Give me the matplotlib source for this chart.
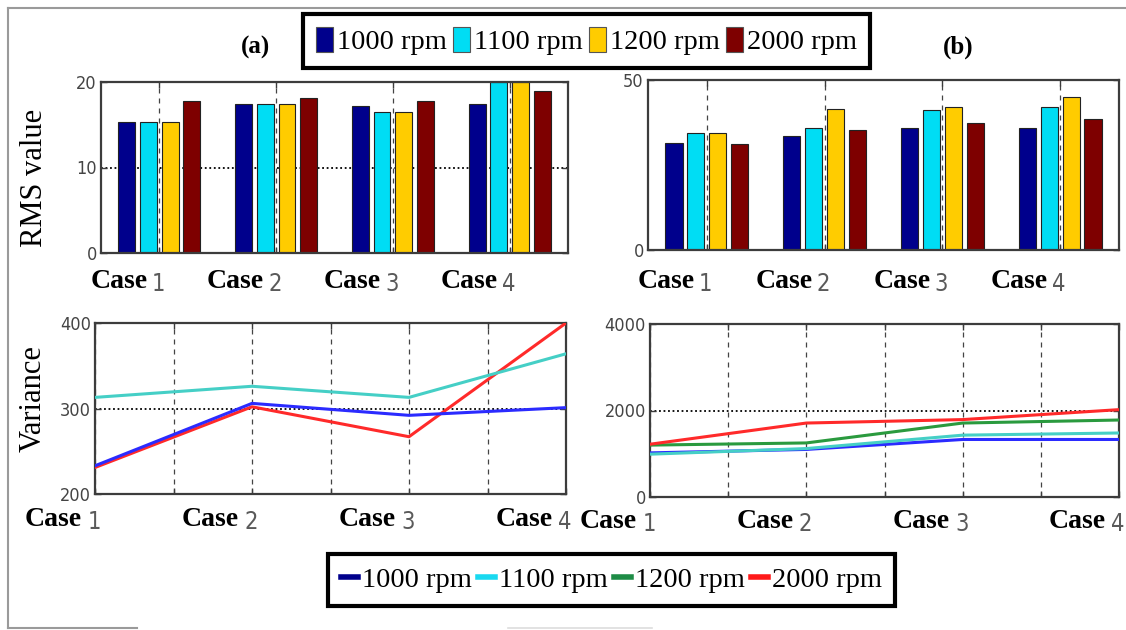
import matplotlib
matplotlib.use("Agg")
import matplotlib.pyplot as plt
import matplotlib.transforms as mtransforms
from matplotlib import font_manager
from matplotlib.font_manager import FontProperties
from matplotlib.patches import Patch
from matplotlib.lines import Line2D
import numpy as np

plt.rcParams["font.family"] = ["Liberation Serif", "DejaVu Serif"]

W, H, DPI = 1126, 630, 100

cases = ["Case 1", "Case 2", "Case 3", "Case 4"]
speeds = ["1000 rpm", "1100 rpm", "1200 rpm", "2000 rpm"]

# RMS values, panel (a)
rms_a_1000 = [15.3, 17.4, 17.2, 17.4]
rms_a_1100 = [15.3, 17.4, 16.5, 20.0]
rms_a_1200 = [15.3, 17.4, 16.5, 20.0]
rms_a_2000 = [17.8, 18.1, 17.8, 19.0]

# RMS values, panel (b)
rms_b_1000 = [31.4, 33.6, 36.0, 36.0]
rms_b_1100 = [34.4, 36.0, 41.3, 42.0]
rms_b_1200 = [34.4, 41.4, 42.1, 45.1]
rms_b_2000 = [31.2, 35.3, 37.4, 38.4]

# Variance, panel (a)
var_a_1000 = [233, 306, 292, 301]
var_a_1100 = [313, 326, 313, 364]
var_a_2000 = [231, 302, 267, 400]

# Variance, panel (b)
var_b_1000 = [1020, 1100, 1330, 1330]
var_b_1100 = [990, 1120, 1430, 1480]
var_b_1200 = [1200, 1250, 1710, 1780]
var_b_2000 = [1220, 1710, 1790, 2020]

rms_ticks_a = [0, 10, 20]
rms_ticks_b = [0, 50]
var_ticks_a = [200, 300, 400]
var_ticks_b = [0, 2000, 4000]

bar_colors = ["#00008C", "#00DDF4", "#FFCC00", "#7E0000"]
line_colors = {"1000 rpm": "#2B2BFF", "1100 rpm": "#45CFC6",
               "1200 rpm": "#2A9A3E", "2000 rpm": "#FF2A2A"}
legend_line_colors = ["#00008C", "#19D9F0", "#1E8C46", "#FF1A1A"]
SPINE = "#3c3c3c"


def narrow_font():
    """Pick a condensed sans face for the numerals if one is installed."""
    for f in font_manager.fontManager.ttflist:
        fn = f.fname.lower()
        if ("narrow" in fn or "condensed" in fn) and "bold" not in fn \
                and "italic" not in fn and "oblique" not in fn and "serif" not in fn:
            return dict(fname=f.fname)
    return dict(family="Liberation Sans")


NARROW = narrow_font()


def nprop(size):
    return FontProperties(size=size, **NARROW)


fig = plt.figure(figsize=(W / DPI, H / DPI), dpi=DPI)
fig.patch.set_facecolor("white")


def px_axes(x0, y0, x1, y1):
    return fig.add_axes([x0 / W, 1 - y1 / H, (x1 - x0) / W, (y1 - y0) / H])


def style(ax, yticks):
    for s in ax.spines.values():
        s.set_color(SPINE)
        s.set_linewidth(1.6)
    ax.set_axisbelow(True)
    ax.set_yticks(yticks)
    ax.tick_params(direction="in", length=4, width=1, color=SPINE,
                   top=True, right=True, labelbottom=False, pad=3)
    for lab in ax.get_yticklabels():
        lab.set_fontproperties(nprop(13))
        lab.set_color("#444444")


def case_labels(ax, xs, y_px, word_dx, digit_dx):
    base = mtransforms.blended_transform_factory(ax.transData, fig.transFigure)
    for x, lab in zip(xs, cases):
        word, num = lab.split()
        t_word = mtransforms.offset_copy(base, fig=fig, x=word_dx, y=0, units="dots")
        t_num = mtransforms.offset_copy(base, fig=fig, x=digit_dx, y=0, units="dots")
        ax.text(x, 1 - y_px / H, word, transform=t_word, ha="right", va="center",
                fontsize=20, fontweight="bold", clip_on=False)
        ax.text(x, 1 - (y_px + 2) / H, num, transform=t_num, ha="center", va="center",
                fontproperties=nprop(17), color="#5a5a5a", clip_on=False)


# ---- RMS bar panels ----
group_pos = np.arange(1, len(cases) + 1)
offsets = (np.arange(4) - 1.5) * 0.186
bar_w = 0.145


def rms_panel(ax, series, yticks, ymax, hgrid):
    for vals, color, off in zip(series, bar_colors, offsets):
        ax.bar(group_pos + off, vals, width=bar_w, color=color,
               edgecolor="#222222", linewidth=0.8, zorder=2)
    ax.set_xlim(0.5, 4.5)
    ax.set_ylim(0, ymax)
    ax.set_xticks(group_pos)
    ax.xaxis.grid(True, linestyle=(0, (4, 4)), color="#444444", linewidth=0.9)
    if hgrid:
        ax.yaxis.grid(True, linestyle=(0, (1, 1.5)), color="black", linewidth=1.3)
    style(ax, yticks)


ax_ra = px_axes(101, 82, 568, 253)
rms_panel(ax_ra, [rms_a_1000, rms_a_1100, rms_a_1200, rms_a_2000], rms_ticks_a, 20, True)
case_labels(ax_ra, group_pos, 282, -12, -1)

ax_rb = px_axes(648, 80, 1119, 250)
rms_panel(ax_rb, [rms_b_1000, rms_b_1100, rms_b_1200, rms_b_2000], rms_ticks_b, 50, False)
case_labels(ax_rb, group_pos, 282, -12, -1)

# ---- Variance line panels ----
case_pos = 2 * np.arange(len(cases))


def var_panel(ax, series, yticks):
    for name, vals in series:
        ax.plot(case_pos, vals, color=line_colors[name], linewidth=2.2, zorder=3)
    ax.set_xlim(case_pos[0], case_pos[-1])
    ax.set_ylim(yticks[0], yticks[-1])
    ax.set_xticks(np.arange(case_pos[0], case_pos[-1] + 1))
    ax.xaxis.grid(True, linestyle=(0, (4, 4)), color="#444444", linewidth=0.9)
    ax.yaxis.grid(True, linestyle=(0, (1, 1.5)), color="black", linewidth=1.3)
    style(ax, yticks)


ax_va = px_axes(95, 323, 566, 494)
var_panel(ax_va, [("2000 rpm", var_a_2000), ("1000 rpm", var_a_1000),
                  ("1100 rpm", var_a_1100)], var_ticks_a)
case_labels(ax_va, case_pos, 520, -13, -1)

ax_vb = px_axes(650, 324, 1119, 497)
var_panel(ax_vb, [("1000 rpm", var_b_1000), ("1100 rpm", var_b_1100),
                  ("1200 rpm", var_b_1200), ("2000 rpm", var_b_2000)], var_ticks_b)
case_labels(ax_vb, case_pos, 522, -13, -1)

# ---- Titles and axis labels ----
fig.text(256 / W, 1 - 47 / H, "(a)", ha="center", va="center", fontsize=18, fontweight="bold")
fig.text(958 / W, 1 - 47 / H, "(b)", ha="center", va="center", fontsize=18, fontweight="bold")
fig.text(35 / W, 1 - 178 / H, "RMS value", rotation=90, ha="center", va="center", fontsize=22)
fig.text(33 / W, 1 - 399 / H, "Variance", rotation=90, ha="center", va="center", fontsize=22)

# ---- Legends ----
bar_handles = [Patch(facecolor=c, edgecolor="#555555", linewidth=0.8) for c in bar_colors]
leg1 = fig.legend(bar_handles, speeds, ncol=4, loc="center",
                  bbox_to_anchor=(586.5 / W, 1 - 41 / H), fontsize=20.5,
                  handlelength=0.6, handleheight=1.0, handletextpad=0.15,
                  columnspacing=0.2, borderpad=0.45, borderaxespad=0,
                  fancybox=False, edgecolor="black", framealpha=1)
leg1.get_frame().set_linewidth(3)

line_handles = [Line2D([0], [0], color=c, linewidth=4) for c in legend_line_colors]
leg2 = fig.legend(line_handles, speeds, ncol=4, loc="center",
                  bbox_to_anchor=(611.5 / W, 1 - 580 / H), fontsize=20.5,
                  handlelength=0.6, handletextpad=0.15,
                  columnspacing=0.2, borderpad=0.45, borderaxespad=0,
                  fancybox=False, edgecolor="black", framealpha=1)
leg2.get_frame().set_linewidth(3)

# ---- Outer frame ----
frame_kw = dict(color="#9a9a9a", linewidth=1.5, transform=fig.transFigure, zorder=0)
fig.add_artist(Line2D([8 / W, 1], [1 - 8 / H, 1 - 8 / H], **frame_kw))
fig.add_artist(Line2D([8 / W, 8 / W], [1 - 8 / H, 1 - 628 / H], **frame_kw))
fig.add_artist(Line2D([8 / W, 137 / W], [1 - 628 / H, 1 - 628 / H], **frame_kw))
fig.add_artist(Line2D([508 / W, 652 / W], [1 - 628 / H, 1 - 628 / H],
                      color="#dddddd", linewidth=1.2, transform=fig.transFigure))

fig.savefig("out.png", dpi=DPI, facecolor="white")
